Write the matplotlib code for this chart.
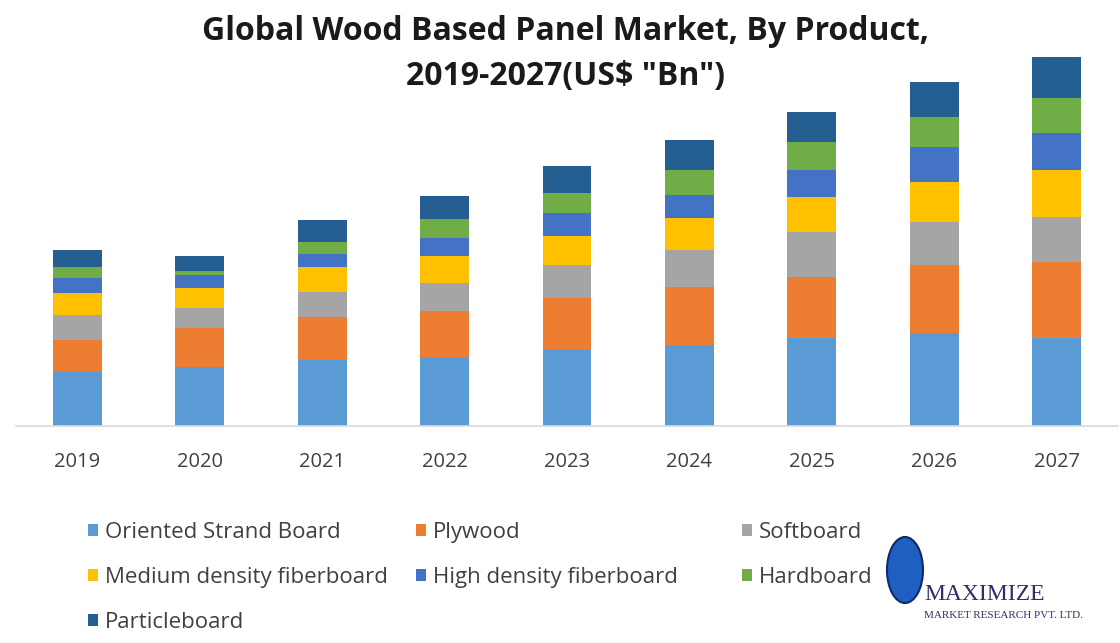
import matplotlib
matplotlib.use("Agg")
import matplotlib.pyplot as plt
import numpy as np
from matplotlib.patches import Ellipse, Patch

years = ["2019", "2020", "2021", "2022", "2023", "2024", "2025", "2026", "2027"]
products = ["Oriented Strand Board", "Plywood", "Softboard", "Medium density fiberboard",
            "High density fiberboard", "Hardboard", "Particleboard"]

# values (US$ Bn, no axis shown)
osb = [27, 29.5, 33, 34, 38, 40.5, 44, 46.5, 44]
plywood = [16, 19.5, 21.5, 23.5, 26, 29, 30.5, 34, 38]
softboard = [12.5, 10, 12.5, 14, 16.5, 18.5, 22.5, 21.5, 22.5]
mdf = [11, 10, 12.5, 13.5, 14.5, 16, 17.5, 20, 23.5]
hdf = [7.5, 6.5, 6.5, 9, 11.5, 11.5, 13.5, 17.5, 18.5]
hardboard = [5.5, 2, 6, 9.5, 10, 12.5, 14, 15, 17.5]
particleboard = [8.5, 7.5, 11, 11.5, 13.5, 15, 15, 17.5, 20.5]

series = [osb, plywood, softboard, mdf, hdf, hardboard, particleboard]
colors = ["#5B9BD5", "#ED7D31", "#A5A5A5", "#FFC000", "#4472C4", "#70AD47", "#255E91"]

plt.rcParams['font.family'] = ['Open Sans', 'DejaVu Sans']

fig = plt.figure(figsize=(11.2, 6.43), dpi=100)
ax = fig.add_axes([16 / 1120, 217 / 643, 1102 / 1120, 386 / 643])

x = np.arange(len(years))
bottom = np.zeros(len(years))
for vals, col, name in zip(series, colors, products):
    ax.bar(x, vals, width=0.4, bottom=bottom, color=col, label=name)
    bottom += np.array(vals)

ax.set_xlim(-0.5, len(years) - 0.5)
ax.set_ylim(0, 193)
ax.set_xticks(x)
ax.set_xticklabels(years, fontsize=14.5, color="#404040")
ax.tick_params(axis="x", length=0, pad=19)
ax.set_yticks([])
for s in ["top", "right", "left"]:
    ax.spines[s].set_visible(False)
ax.spines["bottom"].set_color("#D9D9D9")
ax.spines["bottom"].set_linewidth(1.2)

fig.text(565 / 1120, 1 - 31 / 643, "Global Wood Based Panel Market, By Product,",
         ha="center", va="center", fontsize=23, fontweight="bold", color="#1a1a1a")
fig.text(565 / 1120, 1 - 76 / 643, '2019-2027(US$ "Bn")',
         ha="center", va="center", fontsize=23, fontweight="bold", color="#1a1a1a")

# legend in three columns, placed like the original
handles = [Patch(facecolor=c) for c in colors]
cols = [([0, 3, 6], 88), ([1, 4], 416), ([2, 5], 742)]
for idx, xpix in cols:
    fig.legend([handles[i] for i in idx], [products[i] for i in idx],
               loc="upper left", bbox_to_anchor=(xpix / 1120, 1 - 522 / 643),
               frameon=False, fontsize=16, labelcolor="#404040",
               handlelength=0.45, handleheight=0.45, handletextpad=0.3,
               labelspacing=1.08, borderpad=0, borderaxespad=0)

# company logo (approximation)
fig.patches.append(Ellipse((905 / 1120, 1 - 570 / 643), 36 / 1120, 66 / 643,
                           transform=fig.transFigure, facecolor="#1f5fbf",
                           edgecolor="#0d2a6b", linewidth=1.5))
fig.text(924 / 1120, 1 - 595 / 643, "MAXIMIZE", fontsize=17, family="Liberation Serif",
         color="#2e2e6e", va="center", ha="left")
fig.text(924 / 1120, 1 - 615 / 643, "MARKET RESEARCH PVT. LTD.", fontsize=8,
         family="Liberation Serif", color="#2e2e6e", va="center", ha="left")

fig.savefig("out.png", dpi=100)
